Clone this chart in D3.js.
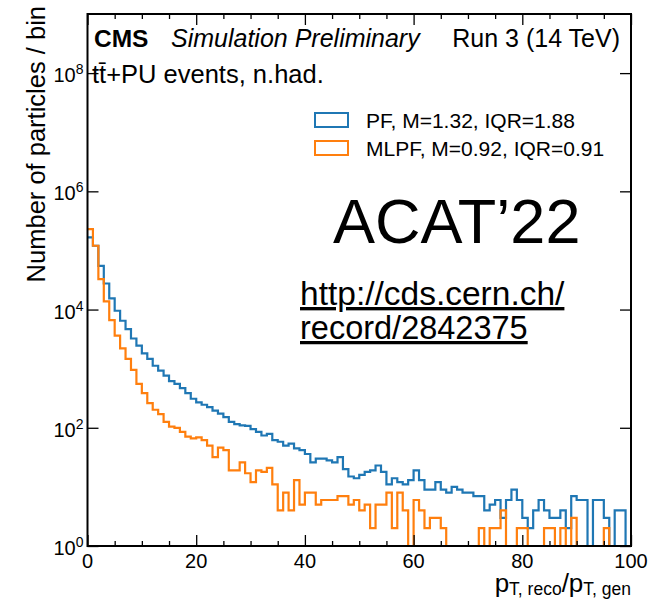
<!DOCTYPE html>
<html>
<head>
<meta charset="utf-8">
<script src="https://cdn.jsdelivr.net/npm/d3@7"></script>
<style>
  html, body { margin: 0; padding: 0; background: #fff; }
  svg { display: block; }
  text { font-family: "Liberation Sans", Arial, Helvetica, sans-serif; fill: #000; }
</style>
</head>
<body>
<svg id="chart" width="648" height="602"></svg>
<script>
// Bin edges of the response histogram (unit-wide bins from 0 to 100)
const binEdges = d3.range(0, 101, 1);

// Particles per bin, standard particle flow
const pfCounts = [
  166000, 120000, 55000, 27600, 15400, 9550, 6460, 4680, 3240, 2450,
  1820, 1460, 1120, 930, 760, 615, 555, 468, 385, 310,
  270, 245, 224, 195, 174, 151, 126, 115, 110, 108,
  95, 85, 74, 79, 62, 58, 50, 54, 45, 42,
  36, 26, 30, 30, 28, 26, 32, 20, 15, 14,
  16, 18, 19, 23, 18, 11, 14, 12, 11, 13,
  19, 13, 9, 9, 12, 9, 8, 10, 9, 8,
  8, 7, 7, 4, 5, 6, 3, 6, 9, 6,
  3, 2, 4, 6, 4, 3, 3, 4, 2, 7,
  6, 6, 1, 6, 6, 3, 1, 4, 4, 1
];

// Particles per bin, machine-learned particle flow
const mlpfCounts = [
  229000, 120000, 32700, 13700, 6650, 3610, 2210, 1460, 953, 553,
  385, 261, 202, 170, 126, 105, 100, 85, 71, 66,
  69, 62, 50, 32, 46, 42, 19, 19, 26, 17,
  12, 19, 18, 21, 11, 4, 8, 4, 13, 5,
  8, 8, 5, 6, 6, 6, 7, 7, 5, 6,
  4, 5, 2, 5, 5, 8, 2, 8, 4, 1,
  6, 4, 2, 3, 3, 2, 1, 1, 1, 1,
  1, 1, 2, 1, 2, 2, 4, 1, 1, 2,
  2, 1, 1, 1, 2, 2, 1, 2, 1, 3,
  1, 1, 1, 1, 1, 2, 1, 1, 0, 0
];

const seriesNames = ["PF, M=1.32, IQR=1.88", "MLPF, M=0.92, IQR=0.91"];
const seriesColors = ["#1f77b4", "#ff7f0e"];

const xMajorTicks = [0, 20, 40, 60, 80, 100];
const xMinorTicks = [5, 10, 15, 25, 30, 35, 45, 50, 55, 65, 70, 75, 85, 90, 95];
const yTicks = [1, 1e2, 1e4, 1e6, 1e8];
const yExponents = ["0", "2", "4", "6", "8"];

const svg = d3.select("#chart");
const plotL = 87.5, plotR = 631, plotT = 14, plotB = 546;

const x = d3.scaleLinear().domain([0, 100]).range([plotL, plotR]);
const y = d3.scaleLog().domain([1, 1e9]).range([plotB, plotT]);

svg.append("defs").append("clipPath").attr("id", "plotclip")
  .append("rect").attr("x", plotL).attr("y", plotT)
  .attr("width", plotR - plotL).attr("height", plotB - plotT + 1);

// Histogram outlines as steps across each bin; empty bins fall below the frame
function stepPoints(counts) {
  const pts = [];
  counts.forEach((c, i) => {
    const v = c > 0 ? c : 0.3;
    pts.push([x(binEdges[i]), y(v)]);
    pts.push([x(binEdges[i + 1]), y(v)]);
  });
  return pts;
}
const line = d3.line();
const plot = svg.append("g").attr("clip-path", "url(#plotclip)");
[pfCounts, mlpfCounts].forEach((counts, k) => {
  plot.append("path")
    .attr("d", line(stepPoints(counts)))
    .attr("fill", "none")
    .attr("stroke", seriesColors[k])
    .attr("stroke-width", 2.2)
    .attr("stroke-linejoin", "miter");
});

// Axes with inward ticks on all four sides
function styleAxis(g) {
  g.select(".domain").remove();
  g.selectAll(".tick line").attr("stroke", "#000").attr("stroke-width", 1.3);
}
svg.append("g").attr("transform", `translate(0,${plotB})`)
  .call(d3.axisBottom(x).tickValues(xMinorTicks).tickSize(-5).tickFormat(""))
  .call(styleAxis);
svg.append("g").attr("transform", `translate(0,${plotB})`)
  .call(d3.axisBottom(x).tickValues(xMajorTicks).tickSize(-11).tickFormat(""))
  .call(styleAxis);
svg.append("g").attr("transform", `translate(0,${plotT})`)
  .call(d3.axisTop(x).tickValues(xMinorTicks).tickSize(-5).tickFormat(""))
  .call(styleAxis);
svg.append("g").attr("transform", `translate(0,${plotT})`)
  .call(d3.axisTop(x).tickValues(xMajorTicks).tickSize(-11).tickFormat(""))
  .call(styleAxis);
svg.append("g").attr("transform", `translate(${plotL},0)`)
  .call(d3.axisLeft(y).tickValues(yTicks).tickSize(-11).tickFormat(""))
  .call(styleAxis);
svg.append("g").attr("transform", `translate(${plotR},0)`)
  .call(d3.axisRight(y).tickValues(yTicks).tickSize(-11).tickFormat(""))
  .call(styleAxis);

// Frame
svg.append("rect")
  .attr("x", plotL).attr("y", plotT)
  .attr("width", plotR - plotL).attr("height", plotB - plotT)
  .attr("fill", "none").attr("stroke", "#000").attr("stroke-width", 2);

// Tick labels
svg.append("g").selectAll("text").data(xMajorTicks).join("text")
  .attr("x", d => x(d)).attr("y", plotB + 22)
  .attr("text-anchor", "middle").attr("font-size", 20)
  .text(d => d);

const yl = svg.append("g").selectAll("text").data(yTicks).join("text")
  .attr("x", plotL - 4).attr("y", d => y(d) + 9)
  .attr("text-anchor", "end").attr("font-size", 20);
yl.append("tspan").text("10");
yl.append("tspan").attr("font-size", 14).attr("dy", -8).text((d, i) => yExponents[i]);

// Axis titles
svg.append("text")
  .attr("transform", `translate(45,${plotT - 8}) rotate(-90)`)
  .attr("text-anchor", "end").attr("font-size", 25.5)
  .text("Number of particles / bin");

const xt = svg.append("text")
  .attr("x", plotR).attr("y", 592)
  .attr("text-anchor", "end").attr("font-size", 26);
xt.append("tspan").text("p");
xt.append("tspan").attr("font-size", 17.5).attr("dy", 3).text("T, reco");
xt.append("tspan").attr("dy", -3).text("/p");
xt.append("tspan").attr("font-size", 17.5).attr("dy", 3).text("T, gen");

// Header
svg.append("text").attr("x", 94).attr("y", 47)
  .attr("font-size", 24.5).attr("font-weight", "bold").text("CMS");
svg.append("text").attr("x", 171).attr("y", 47)
  .attr("font-size", 25).attr("font-style", "italic").text("Simulation Preliminary");
svg.append("text").attr("x", 620).attr("y", 47)
  .attr("text-anchor", "end").attr("font-size", 25).text("Run 3 (14 TeV)");
svg.append("text").attr("x", 92).attr("y", 83)
  .attr("font-size", 25.5).text("tt\u0304+PU events, n.had.");

// Legend
const legend = svg.append("g");
seriesNames.forEach((name, i) => {
  const ly = 113 + i * 28;
  legend.append("rect")
    .attr("x", 315).attr("y", ly).attr("width", 33).attr("height", 14)
    .attr("fill", "none").attr("stroke", seriesColors[i]).attr("stroke-width", 2);
  legend.append("text")
    .attr("x", 366).attr("y", ly + 15)
    .attr("font-size", 21).text(name);
});

// Conference note and record link
svg.append("text").attr("x", 333).attr("y", 243)
  .attr("font-size", 63).text("ACAT\u201922");
svg.append("text").attr("x", 300).attr("y", 305)
  .attr("font-size", 33.5).attr("text-decoration", "underline")
  .text("http://cds.cern.ch/");
svg.append("text").attr("x", 300).attr("y", 339)
  .attr("font-size", 32.5).attr("text-decoration", "underline")
  .text("record/2842375");
</script>
</body>
</html>
